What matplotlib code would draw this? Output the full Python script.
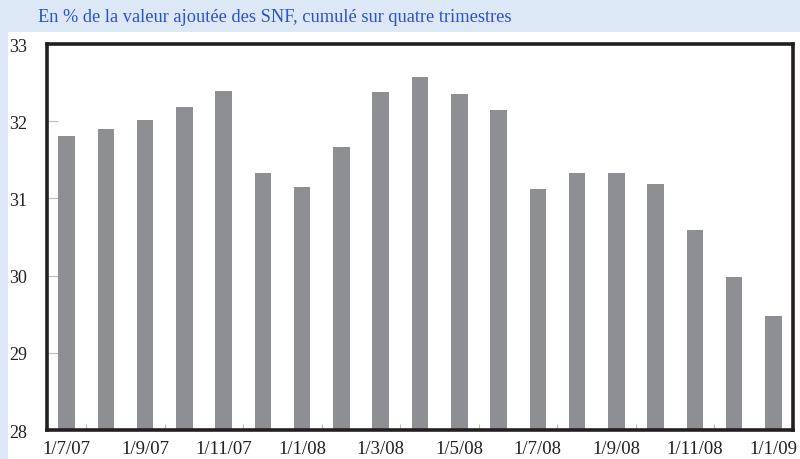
import matplotlib
matplotlib.use("Agg")
import matplotlib.pyplot as plt
import numpy as np
from matplotlib.patches import Rectangle

months = ["1/7/07", "1/8/07", "1/9/07", "1/10/07", "1/11/07", "1/12/07",
          "1/1/08", "1/2/08", "1/3/08", "1/4/08", "1/5/08", "1/6/08",
          "1/7/08", "1/8/08", "1/9/08", "1/10/08", "1/11/08", "1/12/08", "1/1/09"]
values = [31.81, 31.90, 32.01, 32.18, 32.39, 31.33,
          31.15, 31.67, 32.38, 32.57, 32.35, 32.15,
          31.12, 31.33, 31.33, 31.19, 30.59, 29.98, 29.48]
yticks = [28, 29, 30, 31, 32, 33]
title = "En % de la valeur ajoutée des SNF, cumulé sur quatre trimestres"

plt.rcParams['font.family'] = ['Liberation Serif', 'DejaVu Serif']

fig = plt.figure(figsize=(8, 4.6), dpi=100)
band = "#dde8f6"
fig.patches.append(Rectangle((0, 1 - 33 / 460), 1, 33 / 460, transform=fig.transFigure,
                             facecolor=band, edgecolor="none", zorder=0))
fig.patches.append(Rectangle((0, 0), 8 / 800, 1, transform=fig.transFigure,
                             facecolor=band, edgecolor="none", zorder=0))
fig.text(38 / 800, 1 - 18 / 460, title, color="#2a52d0", fontsize=13.2,
         va="center", ha="left")

ax = fig.add_axes([47 / 800, 1 - 431 / 460, (793 - 47) / 800, (431 - 45) / 460])
x = np.arange(len(values))
ax.bar(x, np.array(values) - 28, bottom=28, width=0.42, color="#8e8f93", zorder=2)
ax.set_xlim(-0.5, len(values) - 0.5)
ax.set_ylim(28, 33)
for s in ax.spines.values():
    s.set_linewidth(2.6)
    s.set_color("#231f20")

ax.set_yticks(yticks)
ax.set_yticklabels([str(t) for t in yticks], fontsize=13, color="#231f20")
ax.tick_params(axis="y", direction="in", length=8, width=0.8, color="#bbbbbb")
for lab in ax.get_yticklabels():
    lab.set_horizontalalignment("left")
ax.yaxis.set_tick_params(pad=27)

ax.set_xticks(x[::2])
ax.set_xticklabels(months[::2], fontsize=13.5, color="#231f20")
ax.tick_params(axis="x", length=0, pad=7)
ax.set_xticks(np.arange(0.5, len(values) - 1, 2), minor=True)
ax.tick_params(axis="x", which="minor", direction="in", length=4, width=0.8, color="#bbbbbb")

fig.savefig("out.png", dpi=100)
